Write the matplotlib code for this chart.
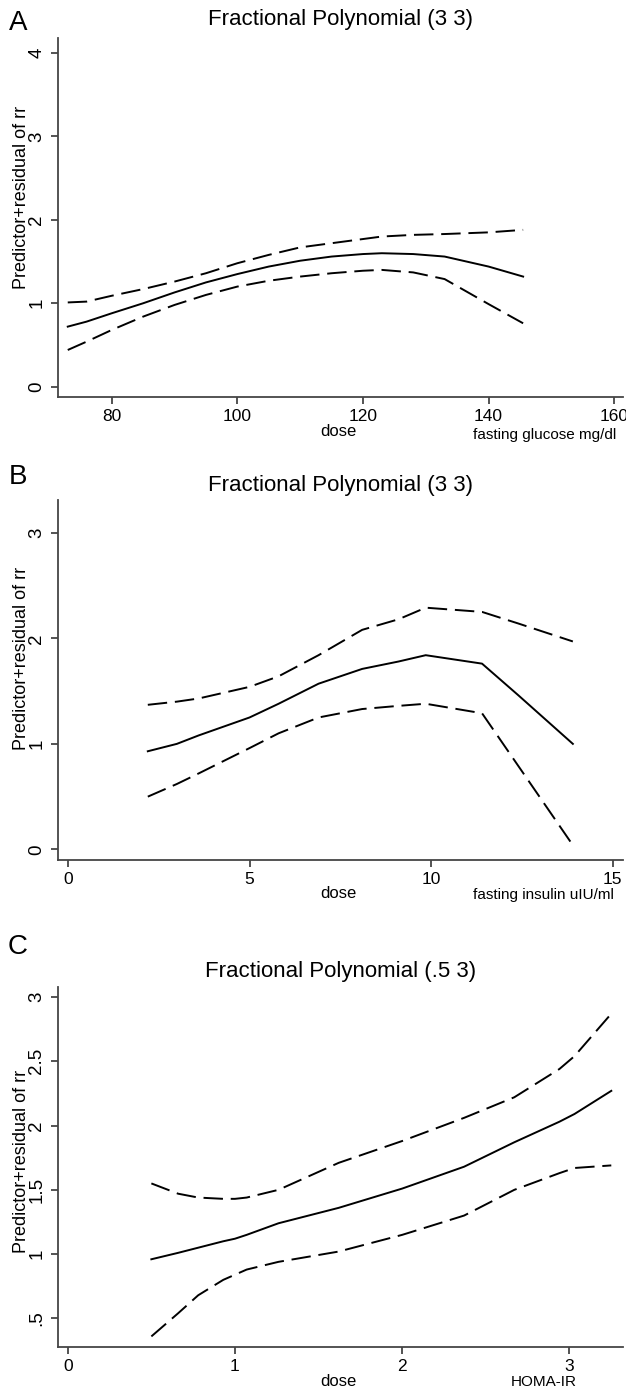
import numpy as np
import matplotlib
matplotlib.use('Agg')
import matplotlib.pyplot as plt

plt.rcParams['font.family'] = ['Liberation Sans', 'DejaVu Sans']

# Panel A - fasting glucose
a_dose = [73, 76, 80, 85, 90, 95, 100, 105, 110, 115, 120, 123, 128, 133, 140, 145.5]
a_fit = [0.72, 0.78, 0.88, 1.00, 1.13, 1.25, 1.35, 1.44, 1.51, 1.56, 1.59, 1.60, 1.59, 1.56, 1.44, 1.32]
a_up = [1.01, 1.02, 1.09, 1.17, 1.26, 1.36, 1.48, 1.58, 1.67, 1.72, 1.77, 1.80, 1.82, 1.83, 1.85, 1.88]
a_lo = [0.44, 0.54, 0.68, 0.84, 0.98, 1.10, 1.20, 1.27, 1.32, 1.36, 1.39, 1.40, 1.37, 1.29, 0.99, 0.76]

# Panel B - fasting insulin
b_dose = [2.2, 3.0, 3.6, 5.0, 5.8, 6.9, 8.1, 9.1, 9.85, 11.4, 12.4, 13.9]
b_fit = [0.93, 1.00, 1.08, 1.25, 1.38, 1.57, 1.71, 1.78, 1.84, 1.76, 1.46, 1.00]
b_up = [1.37, 1.40, 1.43, 1.54, 1.64, 1.84, 2.08, 2.18, 2.29, 2.25, 2.14, 1.97]
b_lo = [0.50, 0.62, 0.72, 0.96, 1.10, 1.25, 1.33, 1.36, 1.38, 1.29, 0.79, 0.04]

# Panel C - HOMA-IR
c_dose = [0.50, 0.66, 0.78, 0.93, 1.0, 1.07, 1.26, 1.62, 2.0, 2.37, 2.67, 2.94, 3.03, 3.25]
c_fit = [0.96, 1.01, 1.05, 1.10, 1.12, 1.15, 1.24, 1.36, 1.51, 1.68, 1.87, 2.03, 2.09, 2.27]
c_up = [1.55, 1.47, 1.44, 1.43, 1.43, 1.44, 1.50, 1.71, 1.88, 2.06, 2.22, 2.44, 2.54, 2.87]
c_lo = [0.36, 0.54, 0.68, 0.80, 0.84, 0.88, 0.94, 1.02, 1.15, 1.30, 1.50, 1.63, 1.67, 1.69]

panels = [
    dict(tag='A', title='Fractional Polynomial (3 3)', x=a_dose, fit=a_fit, up=a_up, lo=a_lo,
         xticks=[80, 100, 120, 140, 160], xlim=(71.4, 161.4),
         yticks=[0, 1, 2, 3, 4], ylabels=['0', '1', '2', '3', '4'], ylim=(-0.12, 4.18),
         xname='fasting glucose mg/dl', top=38, bottom=396.7, tag_y=23, title_y=20,
         dose_y=432, name_y=435, name_x=616, name_ha='right', ylab_y=197),
    dict(tag='B', title='Fractional Polynomial (3 3)', x=b_dose, fit=b_fit, up=b_up, lo=b_lo,
         xticks=[0, 5, 10, 15], xlim=(-0.28, 15.28),
         yticks=[0, 1, 2, 3], ylabels=['0', '1', '2', '3'], ylim=(-0.10, 3.31),
         xname='fasting insulin uIU/ml', top=500, bottom=860, tag_y=477, title_y=485,
         dose_y=893, name_y=895, name_x=614, name_ha='right', ylab_y=658),
    dict(tag='C', title='Fractional Polynomial (.5 3)', x=c_dose, fit=c_fit, up=c_up, lo=c_lo,
         xticks=[0, 1, 2, 3], xlim=(-0.06, 3.32),
         yticks=[0.5, 1, 1.5, 2, 2.5, 3], ylabels=['.5', '1', '1.5', '2', '2.5', '3'],
         ylim=(0.28, 3.08),
         xname='HOMA-IR', top=986.7, bottom=1346.7, tag_y=947, title_y=972,
         dose_y=1382, name_y=1382, name_x=544, name_ha='center', ylab_y=1161),
]

W, H = 626, 1390
fig = plt.figure(figsize=(W / 100, H / 100), dpi=100)
left, right = 57.7, 623
axis_col = '#454545'
dash = (10, 4)

for p in panels:
    ax = fig.add_axes([left / W, 1 - p['bottom'] / H, (right - left) / W,
                       (p['bottom'] - p['top']) / H])
    ax.plot(p['x'], p['fit'], color='black', lw=1.4)
    ax.plot(p['x'], p['up'], color='black', lw=1.4, dashes=dash)
    ax.plot(p['x'], p['lo'], color='black', lw=1.4, dashes=dash)
    ax.set_xlim(*p['xlim'])
    ax.set_ylim(*p['ylim'])
    ax.set_xticks(p['xticks'])
    ax.set_xticklabels([str(t) for t in p['xticks']], fontsize=12.5)
    ax.set_yticks(p['yticks'])
    ax.set_yticklabels(p['ylabels'], rotation=90, va='center', fontsize=13.5)
    for s in ['top', 'right']:
        ax.spines[s].set_visible(False)
    for s in ['left', 'bottom']:
        ax.spines[s].set_color(axis_col)
        ax.spines[s].set_linewidth(1.3)
    ax.tick_params(colors=axis_col, labelcolor='black', length=5, width=1.3)
    ax.tick_params(axis='x', pad=4)
    ax.tick_params(axis='y', pad=4)

    cx = (left + right) / 2 / W
    fig.text(22 / W, 1 - p['ylab_y'] / H, 'Predictor+residual of rr', rotation=90,
             ha='center', va='center', fontsize=13)
    fig.text(cx, 1 - p['title_y'] / H, p['title'], ha='center', va='center', fontsize=16)
    fig.text(18 / W, 1 - p['tag_y'] / H, p['tag'], ha='center', va='center', fontsize=20)
    fig.text(338 / W, 1 - p['dose_y'] / H, 'dose', ha='center', va='center', fontsize=12)
    fig.text(p['name_x'] / W, 1 - p['name_y'] / H, p['xname'], ha=p['name_ha'],
             va='center', fontsize=11)

fig.savefig('out.png', dpi=100)
